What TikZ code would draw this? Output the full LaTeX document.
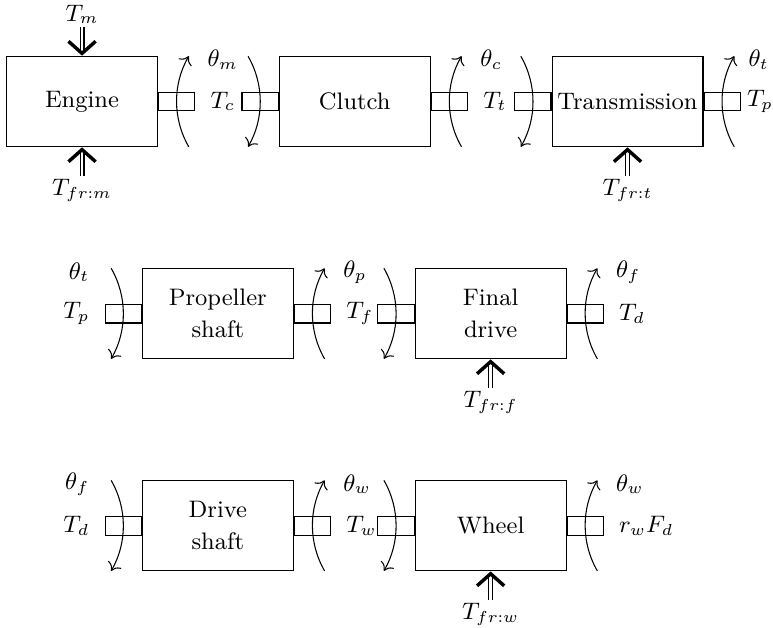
\documentclass[tikz,border=0pt]{standalone}
\usepackage{amssymb}
\usepackage{xcolor}
\usetikzlibrary{arrows.meta,positioning}

\begin{document}
\begin{tikzpicture}[
  node distance=16mm and 16mm,
  font=\small,
  block/.style={draw, align=center, minimum width=20mm, minimum height=12mm, inner sep=2pt},
  shaft/.style={draw, minimum width=4.8mm, minimum height=2.5mm, inner sep=0pt},
  sym/.style={inner sep=1pt},
  load/.style={double, double distance=1.1pt, -{Straight Barb[line width=1.3pt, length=1.6mm, width=3.6mm]}},
  spin/.style={-{To[length=1mm, width=2mm]}}
]
\useasboundingbox (-1.087,-6.976) rectangle (9.156,1.345);
% first row
\node[block] (engine) {Engine};
\node[block, right=of engine] (clutch) {Clutch};
\node[block, right=of clutch] (trans) {Transmission};
% second row
\node[block] (prop) at (1.8,-2.81) {Propeller\\[1pt]shaft};
\node[block, right=of prop] (final) {Final\\[1pt]drive};
% third row
\node[block] (drive) at (1.8,-5.62) {Drive\\[1pt]shaft};
\node[block, right=of drive] (wheel) {Wheel};
% shafts
\node[shaft, right=0pt of engine] (engine-r) {};
\node[shaft, left=0pt of clutch] (clutch-l) {};
\node[shaft, right=0pt of clutch] (clutch-r) {};
\node[shaft, left=0pt of trans] (trans-l) {};
\node[shaft, right=0pt of trans] (trans-r) {};
\node[shaft, left=0pt of prop] (prop-l) {};
\node[shaft, right=0pt of prop] (prop-r) {};
\node[shaft, left=0pt of final] (final-l) {};
\node[shaft, right=0pt of final] (final-r) {};
\node[shaft, left=0pt of drive] (drive-l) {};
\node[shaft, right=0pt of drive] (drive-r) {};
\node[shaft, left=0pt of wheel] (wheel-l) {};
\node[shaft, right=0pt of wheel] (wheel-r) {};
% rotations
\draw[spin] ([xshift=1.6mm, yshift=-6mm]engine-r.center) arc[start angle=210, end angle=150, radius=12mm];
\draw[spin] ([xshift=1.6mm, yshift=-6mm]clutch-r.center) arc[start angle=210, end angle=150, radius=12mm];
\draw[spin] ([xshift=1.6mm, yshift=-6mm]trans-r.center) arc[start angle=210, end angle=150, radius=12mm];
\draw[spin] ([xshift=1.6mm, yshift=-6mm]prop-r.center) arc[start angle=210, end angle=150, radius=12mm];
\draw[spin] ([xshift=1.6mm, yshift=-6mm]final-r.center) arc[start angle=210, end angle=150, radius=12mm];
\draw[spin] ([xshift=1.6mm, yshift=-6mm]drive-r.center) arc[start angle=210, end angle=150, radius=12mm];
\draw[spin] ([xshift=1.6mm, yshift=-6mm]wheel-r.center) arc[start angle=210, end angle=150, radius=12mm];
\draw[spin] ([xshift=-1.6mm, yshift=6mm]clutch-l.center) arc[start angle=30, end angle=-30, radius=12mm];
\draw[spin] ([xshift=-1.6mm, yshift=6mm]trans-l.center) arc[start angle=30, end angle=-30, radius=12mm];
\draw[spin] ([xshift=-1.6mm, yshift=6mm]prop-l.center) arc[start angle=30, end angle=-30, radius=12mm];
\draw[spin] ([xshift=-1.6mm, yshift=6mm]final-l.center) arc[start angle=30, end angle=-30, radius=12mm];
\draw[spin] ([xshift=-1.6mm, yshift=6mm]drive-l.center) arc[start angle=30, end angle=-30, radius=12mm];
\draw[spin] ([xshift=-1.6mm, yshift=6mm]wheel-l.center) arc[start angle=30, end angle=-30, radius=12mm];
% torques and angles
\node[sym, right=1.6mm of engine-r] (tc) {$T_c$};
\node[sym, anchor=west] (thm) at ([xshift=1.2mm, yshift=5.5mm]engine-r.east) {$\theta_m$};
\node[sym, right=1.6mm of clutch-r] (tt) {$T_t$};
\node[sym, anchor=west] (thc) at ([xshift=1.2mm, yshift=5.5mm]clutch-r.east) {$\theta_c$};
\node[sym, right=0.4mm of trans-r] (tp) {$T_p$};
\node[sym, anchor=west] (tht) at ([xshift=0.6mm, yshift=5.5mm]trans-r.east) {$\theta_t$};
\node[sym, left=1.6mm of prop-l] (tp2) {$T_p$};
\node[sym, anchor=east] (tht2) at ([xshift=-1.6mm, yshift=5.5mm]prop-l.west) {$\theta_t$};
\node[sym, right=1.6mm of prop-r] (tf) {$T_f$};
\node[sym, anchor=west] (thp) at ([xshift=1.2mm, yshift=5.5mm]prop-r.east) {$\theta_p$};
\node[sym, right=1.6mm of final-r] (td) {$T_d$};
\node[sym, anchor=west] (thf) at ([xshift=1.2mm, yshift=5.5mm]final-r.east) {$\theta_f$};
\node[sym, left=1.6mm of drive-l] (td2) {$T_d$};
\node[sym, anchor=east] (thf2) at ([xshift=-1.6mm, yshift=5.5mm]drive-l.west) {$\theta_f$};
\node[sym, right=1.6mm of drive-r] (tw) {$T_w$};
\node[sym, anchor=west] (thw) at ([xshift=1.2mm, yshift=5.5mm]drive-r.east) {$\theta_w$};
\node[sym, right=1.6mm of wheel-r] (fd) {$r_wF_d$};
\node[sym, anchor=west] (thw2) at ([xshift=1.2mm, yshift=5.5mm]wheel-r.east) {$\theta_w$};
% external loads
\node[sym, above=3.8mm of engine] (tm) {$T_m$};
\node[sym, below=3.8mm of engine] (tfrm) {$T_{fr:m}$};
\node[sym, below=3.8mm of trans] (tfrt) {$T_{fr:t}$};
\node[sym, below=3.8mm of final] (tfrf) {$T_{fr:f}$};
\node[sym, below=3.8mm of wheel] (tfrw) {$T_{fr:w}$};
\draw[load] (tm) -- (engine);
\draw[load] (tfrm) -- (engine);
\draw[load] (tfrt) -- (trans);
\draw[load] (tfrf) -- (final);
\draw[load] (tfrw) -- (wheel);
\end{tikzpicture}
\end{document}
